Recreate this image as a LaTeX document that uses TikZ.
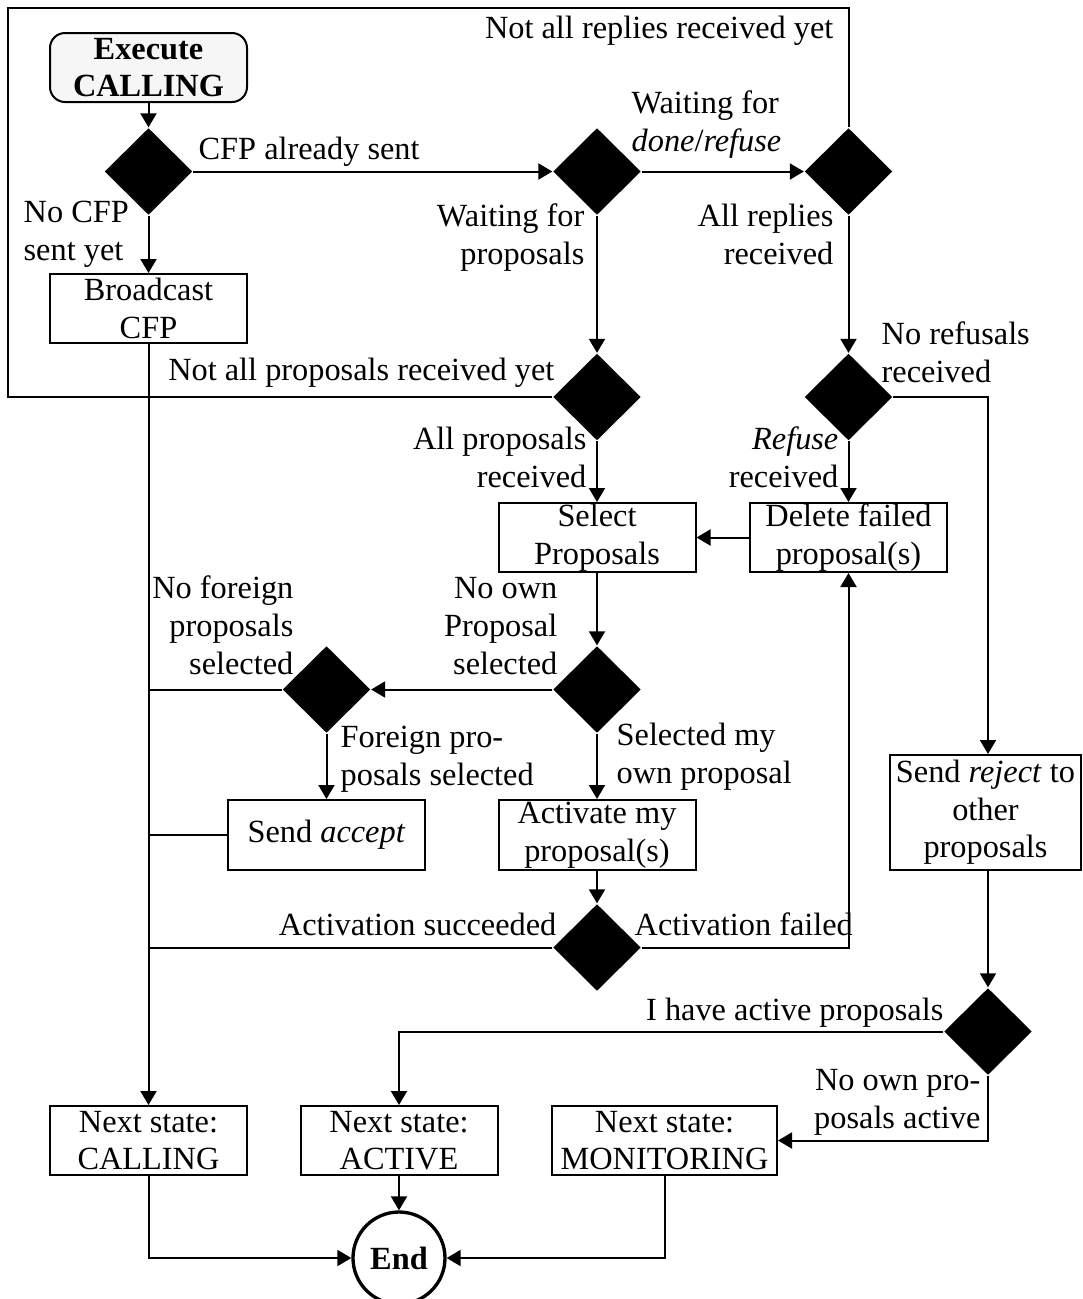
\documentclass[tikz,border=0pt]{standalone}
\usepackage{fontspec}
\setmainfont{Liberation Serif}
\usetikzlibrary{shapes.geometric,arrows.meta}
\begin{document}
\begin{tikzpicture}[x=0.3pt,y=-0.3pt,
  every node/.style={font=\fontsize{9.7}{11.3}\selectfont},
  flow/.style={line width=0.6pt},
  arr/.style={flow,-{Triangle[length=4.2pt,width=4.8pt]}},
  decision/.style={diamond,fill=black,inner sep=0pt,minimum width=26.4pt,minimum height=26.1pt},
  action/.style={draw,line width=0.6pt,inner sep=0pt,minimum width=59.1pt,minimum height=20.7pt,align=center},
  lbl/.style={inner sep=0pt},
]
\useasboundingbox (0,0) rectangle (1083,1299);

% start node
\node[action,rounded corners=4.5pt,fill=gray!7,
      font=\fontsize{9.7}{11.3}\selectfont\bfseries] (exec) at (148.5,67.5) {Execute\\CALLING};

% decisions
\node[decision] (d1) at (148.5,171.5) {};
\node[decision] (d2) at (597,171.5) {};
\node[decision] (d3) at (848.5,171.5) {};
\node[decision] (d4) at (597,397) {};
\node[decision] (d5) at (848.5,397) {};
\node[decision] (d6) at (326.5,689.5) {};
\node[decision] (d7) at (597,689.5) {};
\node[decision] (d8) at (597,947.5) {};
\node[decision] (d9) at (988,1031.5) {};

% actions
\node[action] (bcast) at (148.5,308.5) {Broadcast\\CFP};
\node[action] (select) at (597,537.5) {Select\\Proposals};
\node[action] (delete) at (848.5,537.5) {Delete failed\\proposal(s)};
\node[action,minimum height=21pt] (accept) at (326.5,835) {Send \textit{accept}};
\node[action,minimum height=21pt] (activate) at (597,835) {Activate my\\proposal(s)};
\node[action,minimum width=57.3pt,minimum height=34.5pt] (reject) at (985.5,812.5) {Send \textit{reject} to\\other\\proposals};

% final states
\node[action] (ncall) at (148.5,1140.5) {Next state:\\CALLING};
\node[action] (nactive) at (399,1140.5) {Next state:\\ACTIVE};
\node[action,minimum width=67.5pt] (nmon) at (664.5,1140.5) {Next state:\\MONITORING};
\node[circle,draw,line width=1pt,minimum size=27.6pt,inner sep=0pt,
      font=\fontsize{9.7}{11.3}\selectfont\bfseries] (end) at (399,1258) {End};

% labels (multi-line ones are placed by the baseline of their last line)
\node[lbl,anchor=base west] (t1) at (198,159) {CFP already sent};
\node[lbl,anchor=base west,align=left] (t2) at (23,260) {No CFP\\sent yet};
\node[lbl,anchor=base west,align=left] (t3) at (631,151) {Waiting for\\\textit{done}/\textit{refuse}};
\node[lbl,anchor=base east] (t4) at (834,38) {Not all replies received yet};
\node[lbl,anchor=base east,align=right] (t5) at (585,264) {Waiting for\\proposals};
\node[lbl,anchor=base east,align=right] (t6) at (834,264) {All replies\\received};
\node[lbl,anchor=base east] (t7) at (555,380) {Not all proposals received yet};
\node[lbl,anchor=base west,align=left] (t8) at (881,382) {No refusals\\received};
\node[lbl,anchor=base east,align=right] (t9) at (587,487) {All proposals\\received};
\node[lbl,anchor=base east,align=right] (t10) at (839,487) {\textit{Refuse}\\received};
\node[lbl,anchor=base east,align=right] (t11) at (294,674) {No foreign\\proposals\\selected};
\node[lbl,anchor=base east,align=right] (t12) at (558,674) {No own\\Proposal\\selected};
\node[lbl,anchor=base west,align=left] (t13) at (340,785) {Foreign pro-\\posals selected};
\node[lbl,anchor=base west,align=left] (t14) at (616,783) {Selected my\\own proposal};
\node[lbl,anchor=base east] (t15) at (557,935) {Activation succeeded};
\node[lbl,anchor=base west] (t16) at (634,935) {Activation failed};
\node[lbl,anchor=base east] (t17) at (944,1020) {I have active proposals};
\node[lbl,anchor=base east,align=right] (t18) at (981,1128) {No own pro-\\posals active};

% loop corner
\coordinate (tl) at (8,8);

% connectors
\draw[arr] (exec) -- (d1);
\draw[arr] (d1.east) -- (d2.west);
\draw[arr] (d1.south) -- (bcast.north);
\draw[arr] (d2.east) -- (d3.west);
\draw[arr] (d2.south) -- (d4.north);
\draw[arr] (d3.south) -- (d5.north);
\draw[flow] (d3.north) |- (tl) |- (d4.west);
\draw[arr] (d4.south) -- (select.north);
\draw[arr] (d5.south) -- (delete.north);
\draw[arr] (d5.east) -| (d9.north |- reject.north);
\draw[arr] (delete.west) -- (select.east);
\draw[arr] (select.south) -- (d7.north);
\draw[arr] (d7.west) -- (d6.east);
\draw[flow] (d6.west) -- (bcast.south |- d6.west);
\draw[arr] (d6.south) -- (accept.north);
\draw[flow] (accept.west) -- (bcast.south |- accept.west);
\draw[arr] (d7.south) -- (activate.north);
\draw[arr] (activate.south) -- (d8.north);
\draw[flow] (d8.west) -- (bcast.south |- d8.west);
\draw[arr] (d8.east) -| (delete.south);
\draw[arr] (bcast.south) -- (ncall.north);
\draw[arr] (d9.north |- reject.south) -- (d9.north);
\draw[arr] (d9.west) -| (nactive.north);
\draw[arr] (d9.south) |- (nmon.east);
\draw[arr] (ncall.south) |- (end.west);
\draw[arr] (nactive.south) -- (end.north);
\draw[arr] (nmon.south) |- (end.east);
\end{tikzpicture}
\end{document}
